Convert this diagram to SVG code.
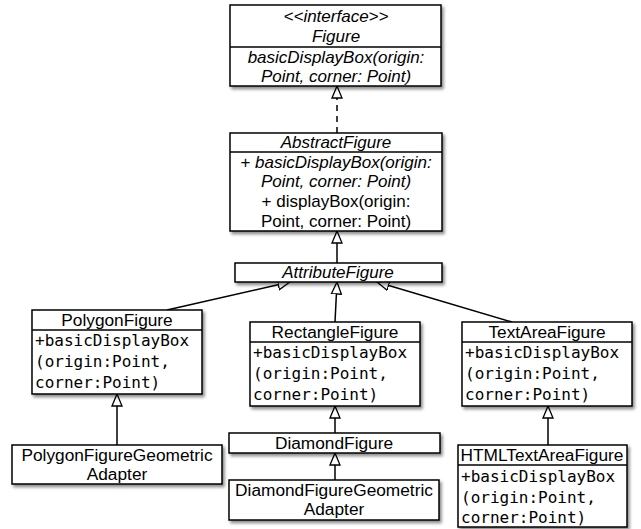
<svg xmlns="http://www.w3.org/2000/svg" width="641" height="529" viewBox="0 0 641 529">
<style>
.box{fill:#fff;stroke:#000;stroke-width:1.5;filter:url(#sh)}
.div{stroke:#000;stroke-width:1.5}
.n{font-family:"Liberation Sans",Arial,sans-serif;font-size:17.3px;fill:#000;text-anchor:middle}
.i{font-style:italic}
.big{font-size:17px}
.m{font-family:"DejaVu Sans Mono",monospace;font-size:16px;fill:#000}
.c{fill:none;stroke:#000;stroke-width:1.5;marker-end:url(#tri)}
.d{stroke-dasharray:6,5}
</style>
<defs>
<filter id="sh" x="-10%" y="-10%" width="130%" height="140%">
<feDropShadow dx="2" dy="2.5" stdDeviation="1.5" flood-color="#000" flood-opacity="0.45"/>
</filter>
<marker id="tri" viewBox="0 0 13 12" refX="12.5" refY="6" markerWidth="13" markerHeight="12" markerUnits="userSpaceOnUse" orient="auto">
<path d="M0.5,1 L12.5,6 L0.5,11 Z" fill="#fff" stroke="#000" stroke-width="1.3"/>
</marker>
</defs>

<g id="connectors">
<path class="c d" d="M337,133 L337,86"/>
<path class="c" d="M337,263 L337,231"/>
<path class="c" d="M167,310 L290,282"/>
<path class="c" d="M335,322 L337,282"/>
<path class="c" d="M512,322 L377,282"/>
<path class="c" d="M117,445 L117,394"/>
<path class="c" d="M335,433 L335,406"/>
<path class="c" d="M335,480 L335,453"/>
<path class="c" d="M548,445 L548,406"/>
</g>

<g id="Figure">
<rect class="box" x="230" y="5" width="211" height="81"/>
<line class="div" x1="230" y1="47" x2="441" y2="47"/>
<text class="n i big" x="336" y="22">&lt;&lt;interface&gt;&gt;</text>
<text class="n i big" x="336" y="42">Figure</text>
<text class="n i big" x="336" y="63">basicDisplayBox(origin:</text>
<text class="n i big" x="336" y="82">Point, corner: Point)</text>
</g>

<g id="AbstractFigure">
<rect class="box" x="230" y="133" width="212" height="98"/>
<line class="div" x1="230" y1="152" x2="442" y2="152"/>
<text class="n i big" x="336" y="148">AbstractFigure</text>
<text class="n i big" x="336" y="168">+ basicDisplayBox(origin:</text>
<text class="n i big" x="336" y="187">Point, corner: Point)</text>
<text class="n big" x="336" y="207">+ displayBox(origin:</text>
<text class="n big" x="336" y="227">Point, corner: Point)</text>
</g>

<g id="AttributeFigure">
<rect class="box" x="235" y="263" width="207" height="19"/>
<text class="n i big" x="338" y="278">AttributeFigure</text>
</g>

<g id="PolygonFigure">
<rect class="box" x="32" y="310" width="170" height="84"/>
<line class="div" x1="32" y1="330" x2="202" y2="330"/>
<text class="n" x="117" y="326">PolygonFigure</text>
<text class="m" x="35" y="346">+basicDisplayBox</text>
<text class="m" x="35" y="367">(origin:Point,</text>
<text class="m" x="35" y="388">corner:Point)</text>
</g>

<g id="RectangleFigure">
<rect class="box" x="250" y="322" width="170" height="84"/>
<line class="div" x1="250" y1="342" x2="420" y2="342"/>
<text class="n" x="335" y="338">RectangleFigure</text>
<text class="m" x="253" y="358">+basicDisplayBox</text>
<text class="m" x="253" y="379">(origin:Point,</text>
<text class="m" x="253" y="400">corner:Point)</text>
</g>

<g id="TextAreaFigure">
<rect class="box" x="462" y="322" width="170" height="84"/>
<line class="div" x1="462" y1="342" x2="632" y2="342"/>
<text class="n" x="547" y="338">TextAreaFigure</text>
<text class="m" x="465" y="358">+basicDisplayBox</text>
<text class="m" x="465" y="379">(origin:Point,</text>
<text class="m" x="465" y="400">corner:Point)</text>
</g>

<g id="PolygonFigureGeometricAdapter">
<rect class="box" x="12" y="445" width="210" height="39"/>
<text class="n" x="117" y="461">PolygonFigureGeometric</text>
<text class="n" x="117" y="480">Adapter</text>
</g>

<g id="DiamondFigure">
<rect class="box" x="229" y="433" width="211" height="20"/>
<text class="n" x="334" y="449">DiamondFigure</text>
</g>

<g id="DiamondFigureGeometricAdapter">
<rect class="box" x="229" y="480" width="210" height="40"/>
<text class="n" x="334" y="496">DiamondFigureGeometric</text>
<text class="n" x="334" y="515">Adapter</text>
</g>

<g id="HTMLTextAreaFigure">
<rect class="box" x="458" y="445" width="169" height="82"/>
<line class="div" x1="458" y1="465" x2="627" y2="465"/>
<text class="n" x="542" y="461">HTMLTextAreaFigure</text>
<text class="m" x="461" y="482">+basicDisplayBox</text>
<text class="m" x="461" y="503">(origin:Point,</text>
<text class="m" x="461" y="523">corner:Point)</text>
</g>
</svg>
